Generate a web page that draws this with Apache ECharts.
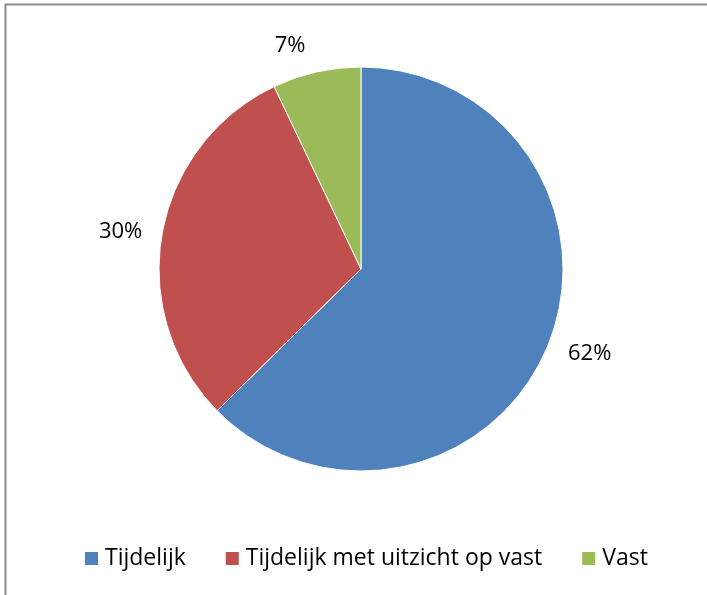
<!DOCTYPE html>
<html>
<head>
<meta charset="utf-8">
<script src="https://cdn.jsdelivr.net/npm/echarts@6/dist/echarts.min.js"></script>
<style>
  html, body { margin: 0; padding: 0; background: #fff; }
  #main { width: 707px; height: 595px; }
</style>
</head>
<body>
<div id="main"></div>
<script>
// categorieen en aandelen (%)
const categories = ['Tijdelijk', 'Tijdelijk met uitzicht op vast', 'Vast'];
const shares = [62, 30, 7];
const colors = ['#4F81BD', '#C0504D', '#9BBB59'];
// afstand van label tot taart per stuk
const labelGaps = [17, 15, 27];

const el = document.getElementById('main');
const myChart = echarts.init(el);

const option = {
  animation: false,
  textStyle: { fontFamily: 'Open Sans' },
  graphic: [{
    type: 'rect',
    shape: { x: 5.5, y: 4.5, width: 800, height: 800 },
    style: { fill: 'none', stroke: '#8c8c8c', lineWidth: 2 }
  }],
  legend: {
    bottom: 20,
    left: 78,
    itemWidth: 15,
    itemHeight: 15,
    itemGap: 38,
    icon: 'rect',
    textStyle: { fontSize: 23, color: '#000', fontFamily: 'Open Sans', padding: [0, 0, 0, 1] },
    data: categories
  },
  series: [{
    type: 'pie',
    center: [361, 269],
    radius: [0, 202],
    startAngle: 90,
    clockwise: true,
    label: {
      show: true,
      position: 'outside',
      formatter: '{c}%',
      fontSize: 22,
      color: '#000',
      fontFamily: 'Open Sans'
    },
    labelLine: { show: false, length: 18, length2: 0 },
    itemStyle: { borderColor: '#fff', borderWidth: 1 },
    data: categories.map((name, i) => ({
      name: name,
      value: shares[i],
      itemStyle: { color: colors[i] },
      labelLine: { show: false, length: labelGaps[i], length2: 0 }
    }))
  }]
};

myChart.setOption(option);
</script>
</body>
</html>
